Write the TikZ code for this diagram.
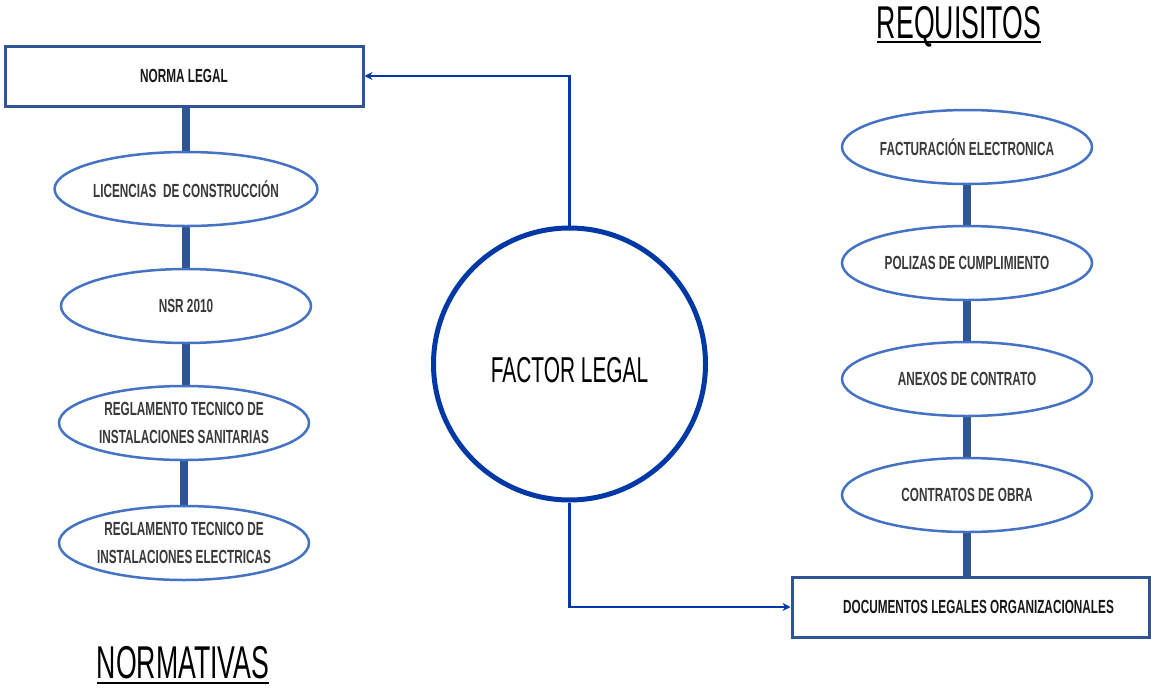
\documentclass[tikz,border=0pt]{standalone}
\usepackage{fontspec}
\setmainfont{Liberation Sans}[FakeStretch=0.62]
\newfontfamily\titlefont{Liberation Sans}[FakeStretch=0.58]
\usetikzlibrary{shapes.geometric,arrows.meta,backgrounds}

\definecolor{barblue}{HTML}{2F5597}
\definecolor{ovalblue}{HTML}{4472C4}
\definecolor{deepblue}{HTML}{0039A6}
\definecolor{txtgray}{HTML}{3A3A3A}

\tikzset{
  oval/.style={ellipse, draw=ovalblue, line width=2.5pt, fill=white,
    minimum width=250pt, minimum height=74pt, inner sep=0pt,
    align=center, text=txtgray,
    font=\fontsize{19}{28}\selectfont\bfseries},
  boxnode/.style={rectangle, draw=barblue, line width=3pt, fill=white,
    inner sep=0pt, text=black!90, font=\fontsize{19}{22}\selectfont\bfseries},
  hub/.style={circle, draw=deepblue, line width=5pt, fill=white,
    minimum size=272pt, inner sep=0pt, font=\titlefont\fontsize{36}{40}\selectfont},
  bar/.style={draw=barblue, line width=8pt},
  link/.style={draw=deepblue, line width=2.5pt,
    -{Stealth[length=8pt,width=8pt]}},
  heading/.style={inner sep=0pt, anchor=base, font=\titlefont\fontsize{46}{50}\selectfont},
  underl/.style={draw=black, line width=2pt}
}

\begin{document}
\begin{tikzpicture}[x=1pt,y=-1pt]
  \useasboundingbox (0,0) rectangle (1151,688);

  % left column: legal norms
  \node[boxnode, minimum width=358pt, minimum height=60pt] (norma) at (184,76) {NORMA LEGAL};
  \node[oval] (lic) at (186,189) {LICENCIAS \ DE CONSTRUCCIÓN};
  \node[oval] (nsr) at (186,306) {NSR 2010};
  \node[oval] (san) at (184,423) {REGLAMENTO TECNICO DE\\INSTALACIONES SANITARIAS};
  \node[oval] (ele) at (184,543) {REGLAMENTO TECNICO DE\\INSTALACIONES ELECTRICAS};

  % centre
  \node[hub] (fl) at (569.5,364) {\raisebox{-18.5pt}[0pt][0pt]{FACTOR LEGAL}};

  % right column: requirements
  \node[oval] (fac) at (967,147) {FACTURACIÓN ELECTRONICA};
  \node[oval] (pol) at (967,263) {POLIZAS DE CUMPLIMIENTO};
  \node[oval] (anx) at (967,379) {ANEXOS DE CONTRATO};
  \node[oval] (con) at (967,495) {CONTRATOS DE OBRA};
  \node[boxnode, minimum width=357pt, minimum height=60pt] (docs) at (970.5,607)
    {\hspace*{16pt}DOCUMENTOS LEGALES ORGANIZACIONALES};

  % headings
  \node[heading] (req) at (959,38) {REQUISITOS};
  \draw[underl] ([yshift=-4pt]req.base west) -- ([yshift=-4pt]req.base east);
  \node[heading] (nor) at (183,678) {NORMATIVAS};
  \draw[underl] ([yshift=-5pt]nor.base west) -- ([yshift=-5pt]nor.base east);

  % thick connecting bars
  \begin{scope}[on background layer]
    \draw[bar] (lic.north) -- (lic.north |- norma.south);
    \draw[bar] (lic.south) -- (lic.south |- nsr.north);
    \draw[bar] (nsr.south) -- (nsr.south |- san.north);
    \draw[bar] (san.south) -- (san.south |- ele.north);
    \draw[bar] (fac.south) -- (fac.south |- pol.north);
    \draw[bar] (pol.south) -- (pol.south |- anx.north);
    \draw[bar] (anx.south) -- (anx.south |- con.north);
    \draw[bar] (con.south) -- (con.south |- docs.north);
  \end{scope}

  % arrows from the hub
  \draw[link] (fl.north) |- (norma.east);
  \draw[link] (fl.south) |- (docs.west);
\end{tikzpicture}
\end{document}
